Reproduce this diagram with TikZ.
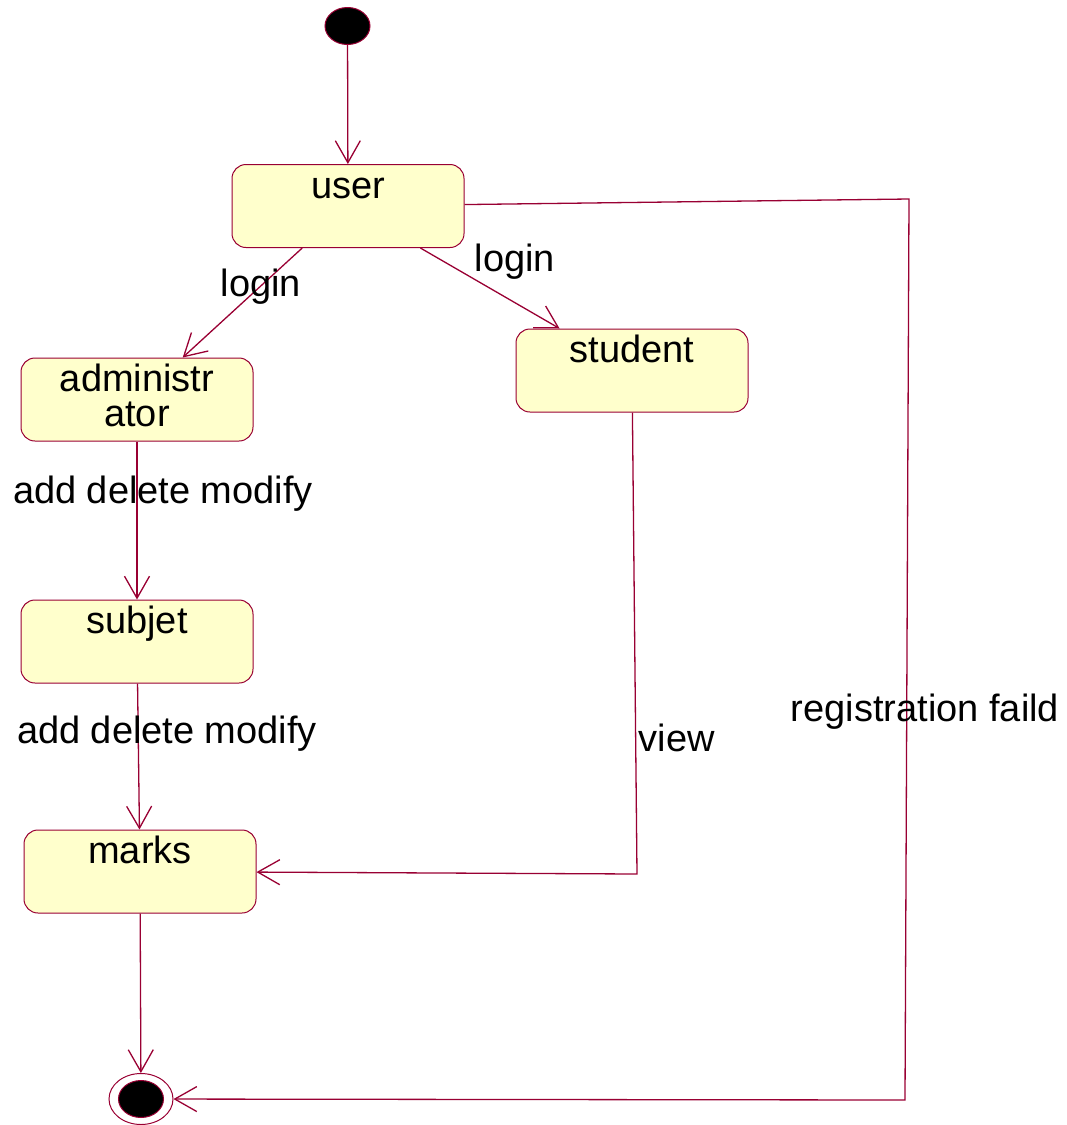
\documentclass[tikz,border=0pt]{standalone}
\usepackage{fontspec}
\setmainfont{Liberation Sans}
\usepackage{tikz}
\usetikzlibrary{arrows.meta,positioning,calc,shapes.geometric}
\definecolor{umlred}{RGB}{153,0,51}
\definecolor{umlfill}{RGB}{255,255,204}
\tikzstyle{state}=[draw=umlred,fill=umlfill,line width=1pt,rounded corners=14pt,minimum width=232pt,minimum height=83pt,inner sep=0pt,align=center,text height=27pt,text depth=43pt]
\tikzstyle{startstate}=[draw=umlred,fill=black,line width=1pt,ellipse,minimum width=45pt,minimum height=37pt,inner sep=0pt]
\tikzstyle{endstate}=[draw=umlred,line width=1pt,ellipse,minimum width=64pt,minimum height=51pt,inner sep=0pt,path picture={\filldraw[umlred,fill=black] (path picture bounding box.center) ellipse (22.5pt and 18.5pt);}]
\tikzstyle{trans}=[umlred,line width=1.3pt,-{Straight Barb[length=22pt,width=25pt,line width=1.3pt]}]
\tikzstyle{lbl}=[inner sep=0pt,text height=27pt,text depth=8pt]

\begin{document}
\begin{tikzpicture}[x=1pt,y=-1pt,font=\fontsize{38}{35}\selectfont]
\useasboundingbox (0,0) rectangle (1067,1125);
\node[startstate] (start) at (347.5,26) {};
\node[state] (user) at (348,206) {user};
\node[state,text height=62pt,text depth=8pt] (admin) at (137,399.5) {administr\\ator};
\node[state] (student) at (632,370.5) {student};
\node[state] (subjet) at (137,641.5) {subjet};
\node[state] (marks) at (140,871.5) {marks};
\node[endstate] (end) at (141,1099) {};

\coordinate (regtop) at (909,199);
\coordinate (regbot) at (905,1100);
\coordinate (viewbend) at (637,874);

\draw[trans] (start) -- (user);
\draw[trans] (user) -- (admin);
\draw[trans] (user) -- (student);
\draw[trans] (admin) -- (subjet);
\draw[trans] (subjet) -- (marks);
\draw[trans] (marks) -- (end);
\draw[trans] (student) -- (viewbend) -- (marks);
\draw[trans] (user) -- (regtop) -- (regbot) -- (end);

\node[lbl] (login1) at (261,287) {login};
\node[lbl] (login2) at (515,262) {login};
\node[lbl] (adm1) at (163,494) {add delete modify};
\node[lbl] (adm2) at (167,734) {add delete modify};
\node[lbl] (view) at (677,742) {view};
\node[lbl] (reg) at (925,712) {registration faild};
\end{tikzpicture}
\end{document}
